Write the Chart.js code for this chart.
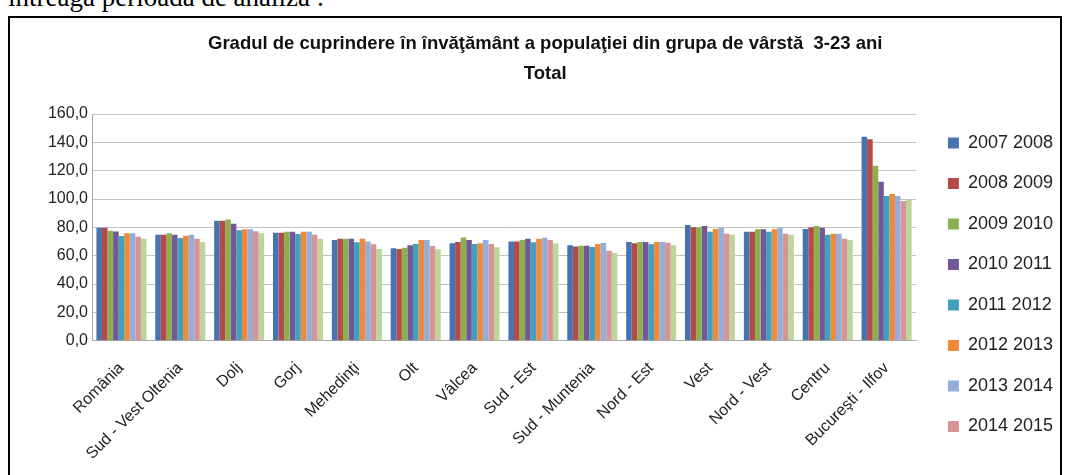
<!DOCTYPE html>
<html>
<head>
<meta charset="utf-8">
<script src="https://cdn.jsdelivr.net/npm/chart.js@4"></script>
<style>
  body { margin: 0; width: 1066px; height: 475px; overflow: hidden; background: #fff; position: relative; }
  #doc { position: absolute; left: 8px; top: -16px; font: 27px/1 "Liberation Serif", serif; color: #000; white-space: nowrap; }
  #frame { position: absolute; left: 8px; top: 16px; width: 1050px; height: 470px; border: 2px solid #000; }
  #wrap { position: absolute; left: 10px; top: 18px; width: 1053px; height: 457px; }
</style>
</head>
<body>
<div id="doc">întreaga perioadă de analiză :</div>
<div id="frame"></div>
<div id="wrap"><canvas id="myChart"></canvas></div>
<script>
var regions = ["România", "Sud - Vest Oltenia", "Dolj", "Gorj", "Mehedinţi", "Olt", "Vâlcea",
    "Sud - Est", "Sud - Muntenia", "Nord - Est", "Vest", "Nord - Vest", "Centru", "Bucureşti - Ilfov"];

var years = ["2007 2008", "2008 2009", "2009 2010", "2010 2011", "2011 2012",
    "2012 2013", "2013 2014", "2014 2015", "2015 2016"];

var v0708 = [79.8, 74.8, 84.7, 76.2, 71.1, 65.2, 68.7, 70.1, 67.3, 69.6, 81.6, 76.9, 78.8, 144.0];
var v0809 = [79.8, 74.8, 84.7, 76.2, 72.0, 64.7, 69.6, 70.1, 66.4, 68.7, 80.0, 76.9, 80.0, 142.1];
var v0910 = [77.6, 75.8, 85.6, 76.9, 72.0, 65.6, 72.9, 71.1, 67.1, 69.6, 80.0, 78.6, 80.9, 123.5];
var v1011 = [77.0, 74.8, 82.6, 76.9, 72.0, 67.3, 71.1, 72.0, 67.1, 69.6, 80.9, 78.6, 79.8, 112.2];
var v1112 = [73.9, 72.5, 77.9, 75.3, 69.4, 68.2, 68.2, 69.4, 66.1, 68.0, 76.9, 76.9, 74.8, 102.1];
var v1213 = [75.8, 74.1, 78.6, 76.9, 72.0, 71.1, 68.7, 72.0, 68.2, 69.6, 78.8, 78.6, 75.5, 103.5];
var v1314 = [75.8, 74.8, 78.6, 76.9, 70.1, 71.1, 71.1, 72.7, 68.9, 69.6, 79.8, 79.8, 75.5, 102.1];
var v1415 = [73.4, 72.0, 77.2, 74.8, 68.0, 66.8, 68.2, 71.1, 63.5, 69.2, 75.5, 75.5, 72.0, 98.6];
var v1516 = [72.0, 69.6, 75.8, 72.0, 64.7, 64.5, 65.9, 68.7, 62.1, 67.3, 74.8, 74.8, 71.1, 99.3];

var yTicks = [0, 20, 40, 60, 80, 100, 120, 140, 160];

var colors = ["#4674b0", "#b54a47", "#8db04e", "#72589a", "#41a0ba", "#ee8a3a", "#93aeda", "#d69492", "#bdd49c"];
var series = [v0708, v0809, v0910, v1011, v1112, v1213, v1314, v1415, v1516];

var font = "'Liberation Sans', Arial, sans-serif";

new Chart("myChart", {
    type: "bar",
    data: {
        labels: regions,
        datasets: series.map(function (vals, i) {
            return {
                label: years[i],
                data: vals,
                backgroundColor: colors[i],
                borderWidth: 0,
                categoryPercentage: 0.85,
                barPercentage: 1.0
            };
        })
    },
    options: {
        responsive: true,
        maintainAspectRatio: false,
        animation: false,
        layout: { padding: { left: 38, right: 0, top: 0, bottom: 10 } },
        plugins: {
            tooltip: { enabled: false },
            title: {
                display: true,
                // trailing spaces nudge the centred title a little to the left, like the original
                text: ["Gradul de cuprindere în învăţământ a populaţiei din grupa de vârstă  3-23 ani    ", "Total    "],
                color: "#111",
                font: { family: font, size: 18.5, weight: "bold", lineHeight: 1.6 },
                padding: { top: 11.5, bottom: 25.3 }
            },
            legend: {
                position: "right",
                align: "start",
                // empty title only pushes the items down to where the original legend sits
                title: { display: true, text: "", font: { size: 12, lineHeight: 1 }, padding: { top: 81.5, bottom: 0 } },
                labels: {
                    boxWidth: 11,
                    boxHeight: 11,
                    padding: 22.5,
                    color: "#222",
                    font: { family: font, size: 18 },
                    filter: function (item) { return item.datasetIndex < 8; }
                }
            }
        },
        scales: {
            x: {
                grid: { display: false },
                border: { color: "#a8a8a8" },
                ticks: {
                    autoSkip: false,
                    maxRotation: 45,
                    minRotation: 45,
                    padding: 10,
                    color: "#222",
                    font: { family: font, size: 16 }
                },
                afterFit: function (s) { s.height = 124.3; }
            },
            y: {
                min: 0,
                max: 160,
                afterBuildTicks: function (s) { s.ticks = yTicks.map(function (v) { return { value: v }; }); },
                ticks: {
                    padding: 4,
                    color: "#222",
                    font: { family: font, size: 16 },
                    callback: function (v) { return v.toFixed(1).replace(".", ","); }
                },
                grid: { color: "#c2c2c2", drawTicks: false },
                border: { color: "#a8a8a8" },
                afterFit: function (s) { s.width = 44; }
            },
            gap: {
                type: "linear",
                position: "right",
                grid: { display: false },
                border: { display: false },
                ticks: { display: false },
                afterFit: function (s) { s.width = 9.4; }
            }
        }
    }
});
</script>
</body>
</html>
